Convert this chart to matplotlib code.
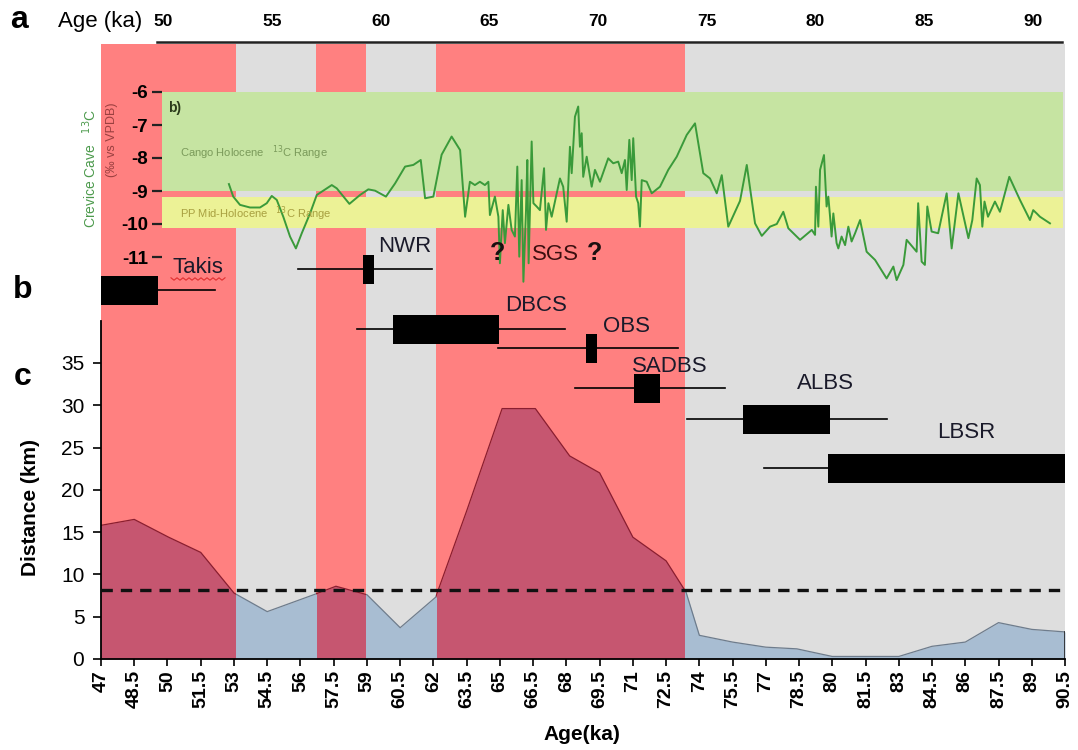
import matplotlib
matplotlib.use('Agg')
import matplotlib.pyplot as plt
from matplotlib.patches import Rectangle
from matplotlib.lines import Line2D
import numpy as np

plt.rcParams['font.family'] = ['Liberation Sans', 'DejaVu Sans']
plt.rcParams['axes.unicode_minus'] = False

# ---------------- data ----------------
# panel c : distance (km) vs age (ka)
dist_age = [47, 48.5, 50.05, 51.5, 53.0, 54.5, 56.6, 57.6, 59.0, 60.5, 62.1, 63.5,
            65.1, 66.6, 68.15, 69.5, 71.0, 72.5, 73.4, 74.0, 75.5, 77.0, 78.4, 80.0,
            81.5, 83.0, 84.5, 86.0, 87.5, 89.0, 90.5]
dist_km = [15.8, 16.5, 14.4, 12.6, 7.8, 5.6, 7.6, 8.6, 7.6, 3.7, 7.3, 17.5,
           29.6, 29.6, 24.0, 22.0, 14.4, 11.6, 7.9, 2.8, 2.0, 1.4, 1.2, 0.3,
           0.3, 0.3, 1.5, 2.0, 4.3, 3.5, 3.2]
threshold_km = 8.1

red_bands = [(47, 53.1), (56.7, 58.95), (62.1, 73.35)]
gray_bands = [(53.1, 56.7), (58.95, 62.1), (73.35, 90.5)]

# panel a : Crevice Cave d13C
d13c_age = [53.03, 53.23, 53.54, 54.00, 54.46, 54.77, 55.00, 55.23, 55.53, 55.84,
            56.11, 56.38, 56.76, 57.07, 57.76, 57.99, 58.57, 59.06, 59.44, 59.75,
            60.25, 60.67, 61.13, 61.51, 61.85, 62.05, 62.43, 62.81, 63.27, 63.66,
            63.89, 64.11, 64.34, 64.57, 64.80, 64.96, 65.03, 65.26, 65.42, 65.49,
            65.62, 65.72, 65.88, 66.03, 66.18, 66.29, 66.38, 66.49, 66.57, 66.69,
            66.75, 66.81, 66.95, 67.03, 67.18, 67.33, 67.52, 67.61, 67.72, 67.87,
            68.25, 68.40, 68.56, 68.71, 68.79, 68.94, 69.09, 69.17, 69.25, 69.32,
            69.48, 69.71, 69.86, 70.09, 70.47, 70.70, 70.93, 71.09, 71.24, 71.32,
            71.44, 71.55, 71.62, 71.75, 71.85, 71.93, 72.01, 72.24, 72.47, 72.85,
            73.23, 73.62, 74.08, 74.46, 74.84, 75.15, 75.46, 75.69, 75.99, 76.53,
            76.84, 77.22, 77.53, 77.91, 78.22, 78.52, 78.75, 79.29, 79.83, 79.98,
            80.02, 80.13, 80.21, 80.39, 80.51, 80.59, 80.67, 80.74, 80.82, 80.97,
            81.05, 81.20, 81.36, 81.51, 81.66, 81.82, 82.05, 82.35, 82.74, 83.27,
            83.58, 83.73, 84.04, 84.19, 84.65, 84.72, 84.88, 85.03, 85.14, 85.34,
            85.64, 86.03, 86.26, 86.57, 87.03, 87.21, 87.41, 87.56, 87.67, 87.77,
            87.93, 88.25, 88.48, 88.91, 89.40, 89.86, 90.01, 90.17, 90.32, 90.55,
            90.78]
d13c_val = [-8.79, -9.17, -9.42, -9.50, -9.50, -9.37, -9.15, -9.27, -9.78, -10.38,
            -10.74, -10.28, -9.68, -9.12, -8.82, -8.92, -9.39, -9.12, -8.95, -8.99,
            -9.17, -8.77, -8.26, -8.21, -8.06, -9.22, -9.17, -7.90, -7.35, -7.76,
            -9.78, -8.72, -8.82, -8.72, -8.82, -8.72, -9.73, -9.17, -9.78, -11.19,
            -9.58, -10.58, -9.42, -10.18, -10.38, -8.26, -10.99, -8.67, -11.75, -9.58,
            -8.06, -11.19, -7.50, -9.37, -9.47, -9.58, -8.31, -10.18, -9.37, -9.78,
            -8.62, -8.87, -9.93, -7.66, -8.46, -6.75, -6.44, -7.66, -7.25, -8.57,
            -7.96, -8.87, -8.36, -8.72, -8.01, -8.16, -8.11, -8.46, -8.06, -8.97,
            -7.45, -8.67, -7.40, -9.17, -9.37, -10.08, -8.67, -8.72, -9.07, -8.87,
            -8.36, -7.96, -7.30, -6.95, -8.46, -8.62, -9.07, -8.52, -10.08, -9.30,
            -8.21, -9.98, -10.36, -10.08, -10.00, -9.63, -10.13, -10.48, -10.18, -10.33,
            -8.87, -10.08, -8.36, -7.91, -9.47, -9.17, -9.78, -10.38, -9.68, -10.58,
            -10.74, -10.38, -10.64, -10.08, -10.53, -10.28, -9.88, -10.84, -11.09, -11.65,
            -11.29, -11.70, -11.24, -10.48, -10.84, -9.37, -11.14, -11.24, -9.47, -10.23,
            -10.28, -9.07, -10.74, -9.07, -10.43, -9.88, -8.62, -8.82, -10.08, -9.32,
            -9.78, -9.32, -9.63, -8.57, -9.27, -9.88, -9.58, -9.68, -9.78, -9.88,
            -9.98]
cango_range = (-9.0, -6.0)
pp_range = (-10.12, -9.18)
d13c_ticks = [-6, -7, -8, -9, -10, -11]
top_ticks = [50, 55, 60, 65, 70, 75, 80, 85, 90]

# panel b : event ages (ka)
events = ['Takis', 'NWR', 'DBCS', 'OBS', 'SADBS', 'ALBS', 'LBSR']
box_lo = [46.5, 58.84, 60.19, 68.89, 71.05, 75.99, 79.82]
box_hi = [49.59, 59.33, 64.97, 69.40, 72.22, 79.91, 90.5]
whisk_lo = [46.0, 55.90, 58.54, 64.93, 68.39, 73.43, 76.92]
whisk_hi = [52.14, 61.92, 67.94, 73.05, 75.16, 82.48, 90.5]

bottom_ticks = np.arange(47, 90.51, 1.5)
dist_ticks = [0, 5, 10, 15, 20, 25, 30, 35]

# ---------------- layout ----------------
W, H = 1078, 750
fig = plt.figure(figsize=(W / 100, H / 100), dpi=100)


def fpos(x0, y0, x1, y1):
    return [x0 / W, 1 - y1 / H, (x1 - x0) / W, (y1 - y0) / H]


def ftxt(x, y, s, **kw):
    fig.text(x / W, 1 - y / H, s, **kw)


RED = '#FF8080'
GRAY = '#DEDEDE'
FILL_RED = '#C65670'
FILL_GRAY = '#A8BDD2'
EDGE_RED = '#8A1E30'
EDGE_GRAY = '#6E7C8C'

# ---- panel c (main axes) ----
px_per_km = 8.46
ax = fig.add_axes(fpos(101, 44, 1065, 659))
ax.set_xlim(47, 90.5)
ax.set_ylim(0, (659 - 44) / px_per_km)
for (a, b) in red_bands:
    ax.axvspan(a, b, color=RED, lw=0, zorder=0)
for (a, b) in gray_bands:
    ax.axvspan(a, b, color=GRAY, lw=0, zorder=0)

for bands, fc, ec in [(red_bands, FILL_RED, EDGE_RED), (gray_bands, FILL_GRAY, EDGE_GRAY)]:
    for (a, b) in bands:
        rect = Rectangle((a, -1), b - a, 200, transform=ax.transData)
        poly = ax.fill_between(dist_age, 0, dist_km, color=fc, lw=0, zorder=1)
        poly.set_clip_path(rect)
        ln, = ax.plot(dist_age, dist_km, color=ec, lw=0.9, zorder=2)
        ln.set_clip_path(rect)
ax.plot([90.5, 90.5], [0, dist_km[-1]], color='#222222', lw=1.2, zorder=2)

ax.axhline(threshold_km, color='#111111', lw=2.4, ls=(0, (3.4, 2.4)), zorder=3)

for s in ['top', 'right']:
    ax.spines[s].set_visible(False)
ax.spines['left'].set_bounds(0, 40)
ax.spines['left'].set_linewidth(1.3)
ax.spines['bottom'].set_linewidth(1.3)
ax.set_xticks(bottom_ticks)
ax.set_xticklabels([f"{v:g}" for v in bottom_ticks], rotation=90, fontsize=14,
                   fontweight='bold')
ax.set_yticks(dist_ticks)
ax.set_yticklabels([str(v) for v in dist_ticks], fontsize=15)
ax.tick_params(axis='x', length=5, width=1.2, pad=3)
ax.tick_params(axis='y', length=6, width=1.2, pad=6)
ftxt(582, 735, 'Age(ka)', fontsize=15, fontweight='bold', ha='center', va='center')
ftxt(30, 507, 'Distance (km)', fontsize=15, fontweight='bold', rotation=90,
     ha='center', va='center')

# ---- panel a (d13C) ----
px_per_ka_top = 21.75


def top_ka(px):
    return 50 + (px - 163) / px_per_ka_top


axa = fig.add_axes(fpos(162, 92, 1063, 290))
axa.set_xlim(top_ka(162), top_ka(1063))
axa.set_ylim(-12, -6)
axa.patch.set_alpha(0)
axa.axhspan(*cango_range, color='#C6E4A2', lw=0, zorder=0)
axa.axhspan(*pp_range, color='#ECF296', lw=0, zorder=0)
axa.plot(d13c_age, d13c_val, color='#3A9A3A', lw=1.4, zorder=2, clip_on=False)
for s in axa.spines.values():
    s.set_visible(False)
axa.set_xticks([])
axa.set_yticks(d13c_ticks)
axa.set_yticklabels([str(v) for v in d13c_ticks], fontsize=13.5, fontweight='bold')
axa.tick_params(axis='y', length=7, width=1.6, pad=3, color='#222222')

ftxt(168, 108, 'b)', fontsize=10, fontweight='bold', color='#2A3A1A', va='center')
ftxt(180, 153, 'Cango Holocene   $^{13}$C Range', fontsize=8, color='#7A9A5A',
     va='center')
ftxt(180, 214, 'PP Mid-Holocene   $^{13}$C Range', fontsize=8, color='#A8A040',
     va='center')
ftxt(90, 168, 'Crevice Cave   $^{13}$C', fontsize=10, color='#4C9A4C', rotation=90,
     ha='center', va='center')
ftxt(112, 140, '(‰ vs VPDB)', fontsize=9, color='#9B4040', rotation=90,
     ha='center', va='center')

# ---- top age axis ----
axt = fig.add_axes(fpos(157, 41, 1062, 42))
axt.set_xlim(top_ka(157), top_ka(1062))
axt.patch.set_alpha(0)
for s in ['top', 'left', 'right']:
    axt.spines[s].set_visible(False)
axt.spines['bottom'].set_linewidth(1.8)
axt.spines['bottom'].set_color('#222222')
axt.set_yticks([])
axt.set_xticks(top_ticks)
axt.set_xticklabels([str(v) for v in top_ticks], fontsize=12.5, fontweight='bold')
axt.tick_params(axis='x', top=True, labeltop=True, bottom=False, labelbottom=False,
                length=0, pad=9)
ftxt(100, 22, 'Age (ka)', fontsize=16, ha='center', va='center')

# ---- panel b (event ages) ----
axb = fig.add_axes(fpos(101, 44, 1065, 659))
axb.set_xlim(47, 90.5)
axb.set_ylim(659, 44)
axb.axis('off')
row_y = [290, 269, 329, 348, 388, 419, 468]
half_h = 14.5
for lo, hi, wl, wh, y in zip(box_lo, box_hi, whisk_lo, whisk_hi, row_y):
    axb.plot([wl, wh], [y, y], color='black', lw=1.2, zorder=3)
    axb.add_patch(Rectangle((lo, y - half_h), hi - lo, 2 * half_h, color='black',
                            lw=0, zorder=4))

label_pos = [(198, 268), (405, 247), (536, 305), (626, 326), (670, 366), (825, 383),
             (966, 433)]
for name, (x, y) in zip(events, label_pos):
    ftxt(x, y, name, fontsize=16, ha='center', va='center', color='#1A1A2A')
# red spell-check underline below Takis
zx = np.arange(171, 226, 3)
zy = 279 + np.where(np.arange(len(zx)) % 2 == 0, -1.2, 1.2)
fig.add_artist(Line2D(zx / W, 1 - zy / H, color='#E03030', lw=0.8))

ftxt(498, 253, '?', fontsize=18, fontweight='bold', ha='center', va='center',
     color='#1A1010')
ftxt(555, 254, 'SGS', fontsize=16, ha='center', va='center', color='#3B0F0F')
ftxt(595, 253, '?', fontsize=18, fontweight='bold', ha='center', va='center',
     color='#1A1010')

# panel letters
ftxt(19, 20, 'a', fontsize=23, fontweight='bold', ha='center', va='center')
ftxt(23, 290, 'b', fontsize=23, fontweight='bold', ha='center', va='center')
ftxt(23, 377, 'c', fontsize=23, fontweight='bold', ha='center', va='center')

fig.savefig('out.png', dpi=100)
